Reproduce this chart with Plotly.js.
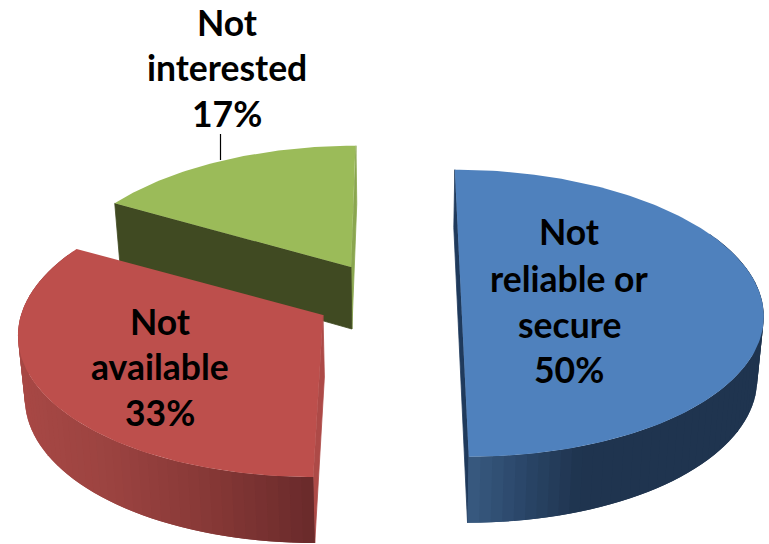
<!DOCTYPE html>
<html>
<head>
<meta charset="utf-8">
<script src="https://cdn.plot.ly/plotly-3.0.1.min.js"></script>
<style>html,body{margin:0;padding:0;background:#fff}#chart{width:769px;height:544px}</style>
</head>
<body>
<div id="chart"></div>
<script>
// Data
const categories = ["Not|reliable or|secure", "Not|available", "Not|interested"];
const shares = [50, 33.3, 16.7];

// Styles
const topColors = ["#4f81bd", "#bd4f4c", "#9bbb59"];
const cutColors = ["#1f3a5c", "#ad4a47", "#8aa64f"];
const innerColors = [null, null, "#404a22"];
const wallStops = [
  [[470,[56,90,128]], [525,[42,70,104]], [580,[31,52,79]], [770,[31,52,79]]],
  [[15,[168,72,69]], [110,[155,67,64]], [210,[134,56,54]], [320,[103,41,42]]],
  null
];

// Projection of each exploded slice: plane point to picture position
const vanishX = 400, persp = 0.113, lowerScale = 0.982;
const placement = [
  {cx: 461, cy: 297, A: 300, B: 141.7},
  {cx: 323, cy: 315, A: 302, B: 143.7},
  {cx: 351, cy: 267, A: 291, B: 135}
];
const labelPos = [
  {x: 569, ys: [231, 278, 324, 369]},
  {x: 160, ys: [321, 366, 412]},
  {x: 227, ys: [22, 67, 113]}
];

function project(p, u, v) {
  const w = 1 + persp * v;
  return [vanishX + (p.cx - vanishX + p.A * u) / w, p.cy - p.B * v / w];
}
function lower(pt, v) {
  const depth = 62 - 4 * v;
  return [vanishX + (pt[0] - vanishX) * lowerScale, pt[1] + depth];
}
function onArc(p, deg) {
  const r = deg * Math.PI / 180, u = Math.sin(r), v = Math.cos(r);
  return {top: project(p, u, v), bot: lower(project(p, u, v), v), v};
}
function polygon(pts, color, lineColor) {
  return {
    type: "scatter", mode: "lines", hoverinfo: "skip", showlegend: false,
    x: pts.map(q => q[0]).concat([pts[0][0]]),
    y: pts.map(q => q[1]).concat([pts[0][1]]),
    fill: "toself", fillcolor: color,
    line: {color: lineColor || color, width: lineColor ? 0.8 : 0}
  };
}
function wallColor(stops, x) {
  if (x <= stops[0][0]) return stops[0][1];
  for (let i = 1; i < stops.length; i++) {
    if (x <= stops[i][0]) {
      const t = (x - stops[i-1][0]) / (stops[i][0] - stops[i-1][0]);
      return stops[i-1][1].map((c, k) => c + (stops[i][1][k] - c) * t);
    }
  }
  return stops[stops.length - 1][1];
}
const rgb = c => "rgb(" + c.map(Math.round).join(",") + ")";

const sliceTraces = [];
let running = 0;
const ranges = shares.map(s => { const a = running; running += s; return [a * 3.6, running * 3.6]; });
ranges[2][1] = 360;

shares.forEach((s, i) => {
  const p = placement[i], [a0, a1] = ranges[i];
  const group = [];
  const apex = project(p, 0, 0), apexLow = lower(apex, 0);
  const first = onArc(p, a0), last = onArc(p, a1);

  // visible cut faces
  if (i === 0) {
    group.push(polygon([first.top, last.top, last.bot, first.bot], cutColors[i], cutColors[i]));
  }
  if (i === 1) {
    group.push(polygon([first.top, apex, apexLow, first.bot], cutColors[i], cutColors[i]));
  }
  if (i === 2) {
    group.push(polygon([last.top, apex, apexLow, last.bot], cutColors[i], cutColors[i]));
    group.push(polygon([first.top, apex, apexLow, first.bot], innerColors[i], innerColors[i]));
  }

  // curved outer wall, shaded in strips; each strip runs under the next so no seams show.
  // The strips are painted towards the lit end last on the red slice and the dark end last on the blue one.
  if (wallStops[i]) {
    const step = 2, list = [];
    for (let d = a0; d < a1 - 0.001; d += step) list.push(d);
    if (i === 1) list.reverse();
    list.forEach(d => {
      const e = Math.min(d + step, a1);
      const A = onArc(p, d), B = onArc(p, e);
      if (A.v > 0.45 && B.v > 0.45) return;
      const col = rgb(wallColor(wallStops[i], (A.top[0] + B.top[0]) / 2));
      const pts = [A.top];
      const steps = 4;
      const cover = i === 1 ? Math.max(d - step, a0) : d;
      const coverEnd = i === 1 ? e : Math.min(e + step, a1);
      const topArc = [], botArc = [];
      for (let k = 0; k <= steps; k++) {
        const q = onArc(p, cover + (coverEnd - cover) * k / steps);
        topArc.push(q.top); botArc.unshift(q.bot);
      }
      group.push(polygon(topArc.concat(botArc), col));
    });
  }

  // top face
  const outline = [apex];
  for (let d = a0; d <= a1 + 0.001; d += 1) outline.push(onArc(p, Math.min(d, a1)).top);
  group.push(polygon(outline, topColors[i]));
  sliceTraces.push(group);
});

// Painted back to front: green, red, blue
const traces = [].concat(sliceTraces[2], sliceTraces[1], sliceTraces[0]);

const annotations = [];
categories.forEach((c, i) => {
  const lines = c.split("|").concat([Math.round(shares[i]) + "%"]);
  lines.forEach((t, k) => annotations.push({
    x: labelPos[i].x, y: labelPos[i].ys[k], xref: "x", yref: "y",
    text: t, showarrow: false, xanchor: "center", yanchor: "middle",
    font: {family: "Lato, 'Open Sans', sans-serif", size: 35.5, color: "#000", weight: 700}
  }));
});

const layout = {
  width: 769, height: 544,
  margin: {l: 0, r: 0, t: 0, b: 0},
  paper_bgcolor: "#fff", plot_bgcolor: "#fff",
  showlegend: false,
  xaxis: {range: [0, 769], visible: false, fixedrange: true},
  yaxis: {range: [544, 0], visible: false, fixedrange: true},
  annotations,
  shapes: [{type: "line", xref: "x", yref: "y", x0: 220.5, x1: 220.5, y0: 134, y1: 160,
            line: {color: "#000", width: 1.2}}]
};
Plotly.newPlot("chart", traces, layout, {displayModeBar: false, staticPlot: true});
</script>
</body>
</html>
